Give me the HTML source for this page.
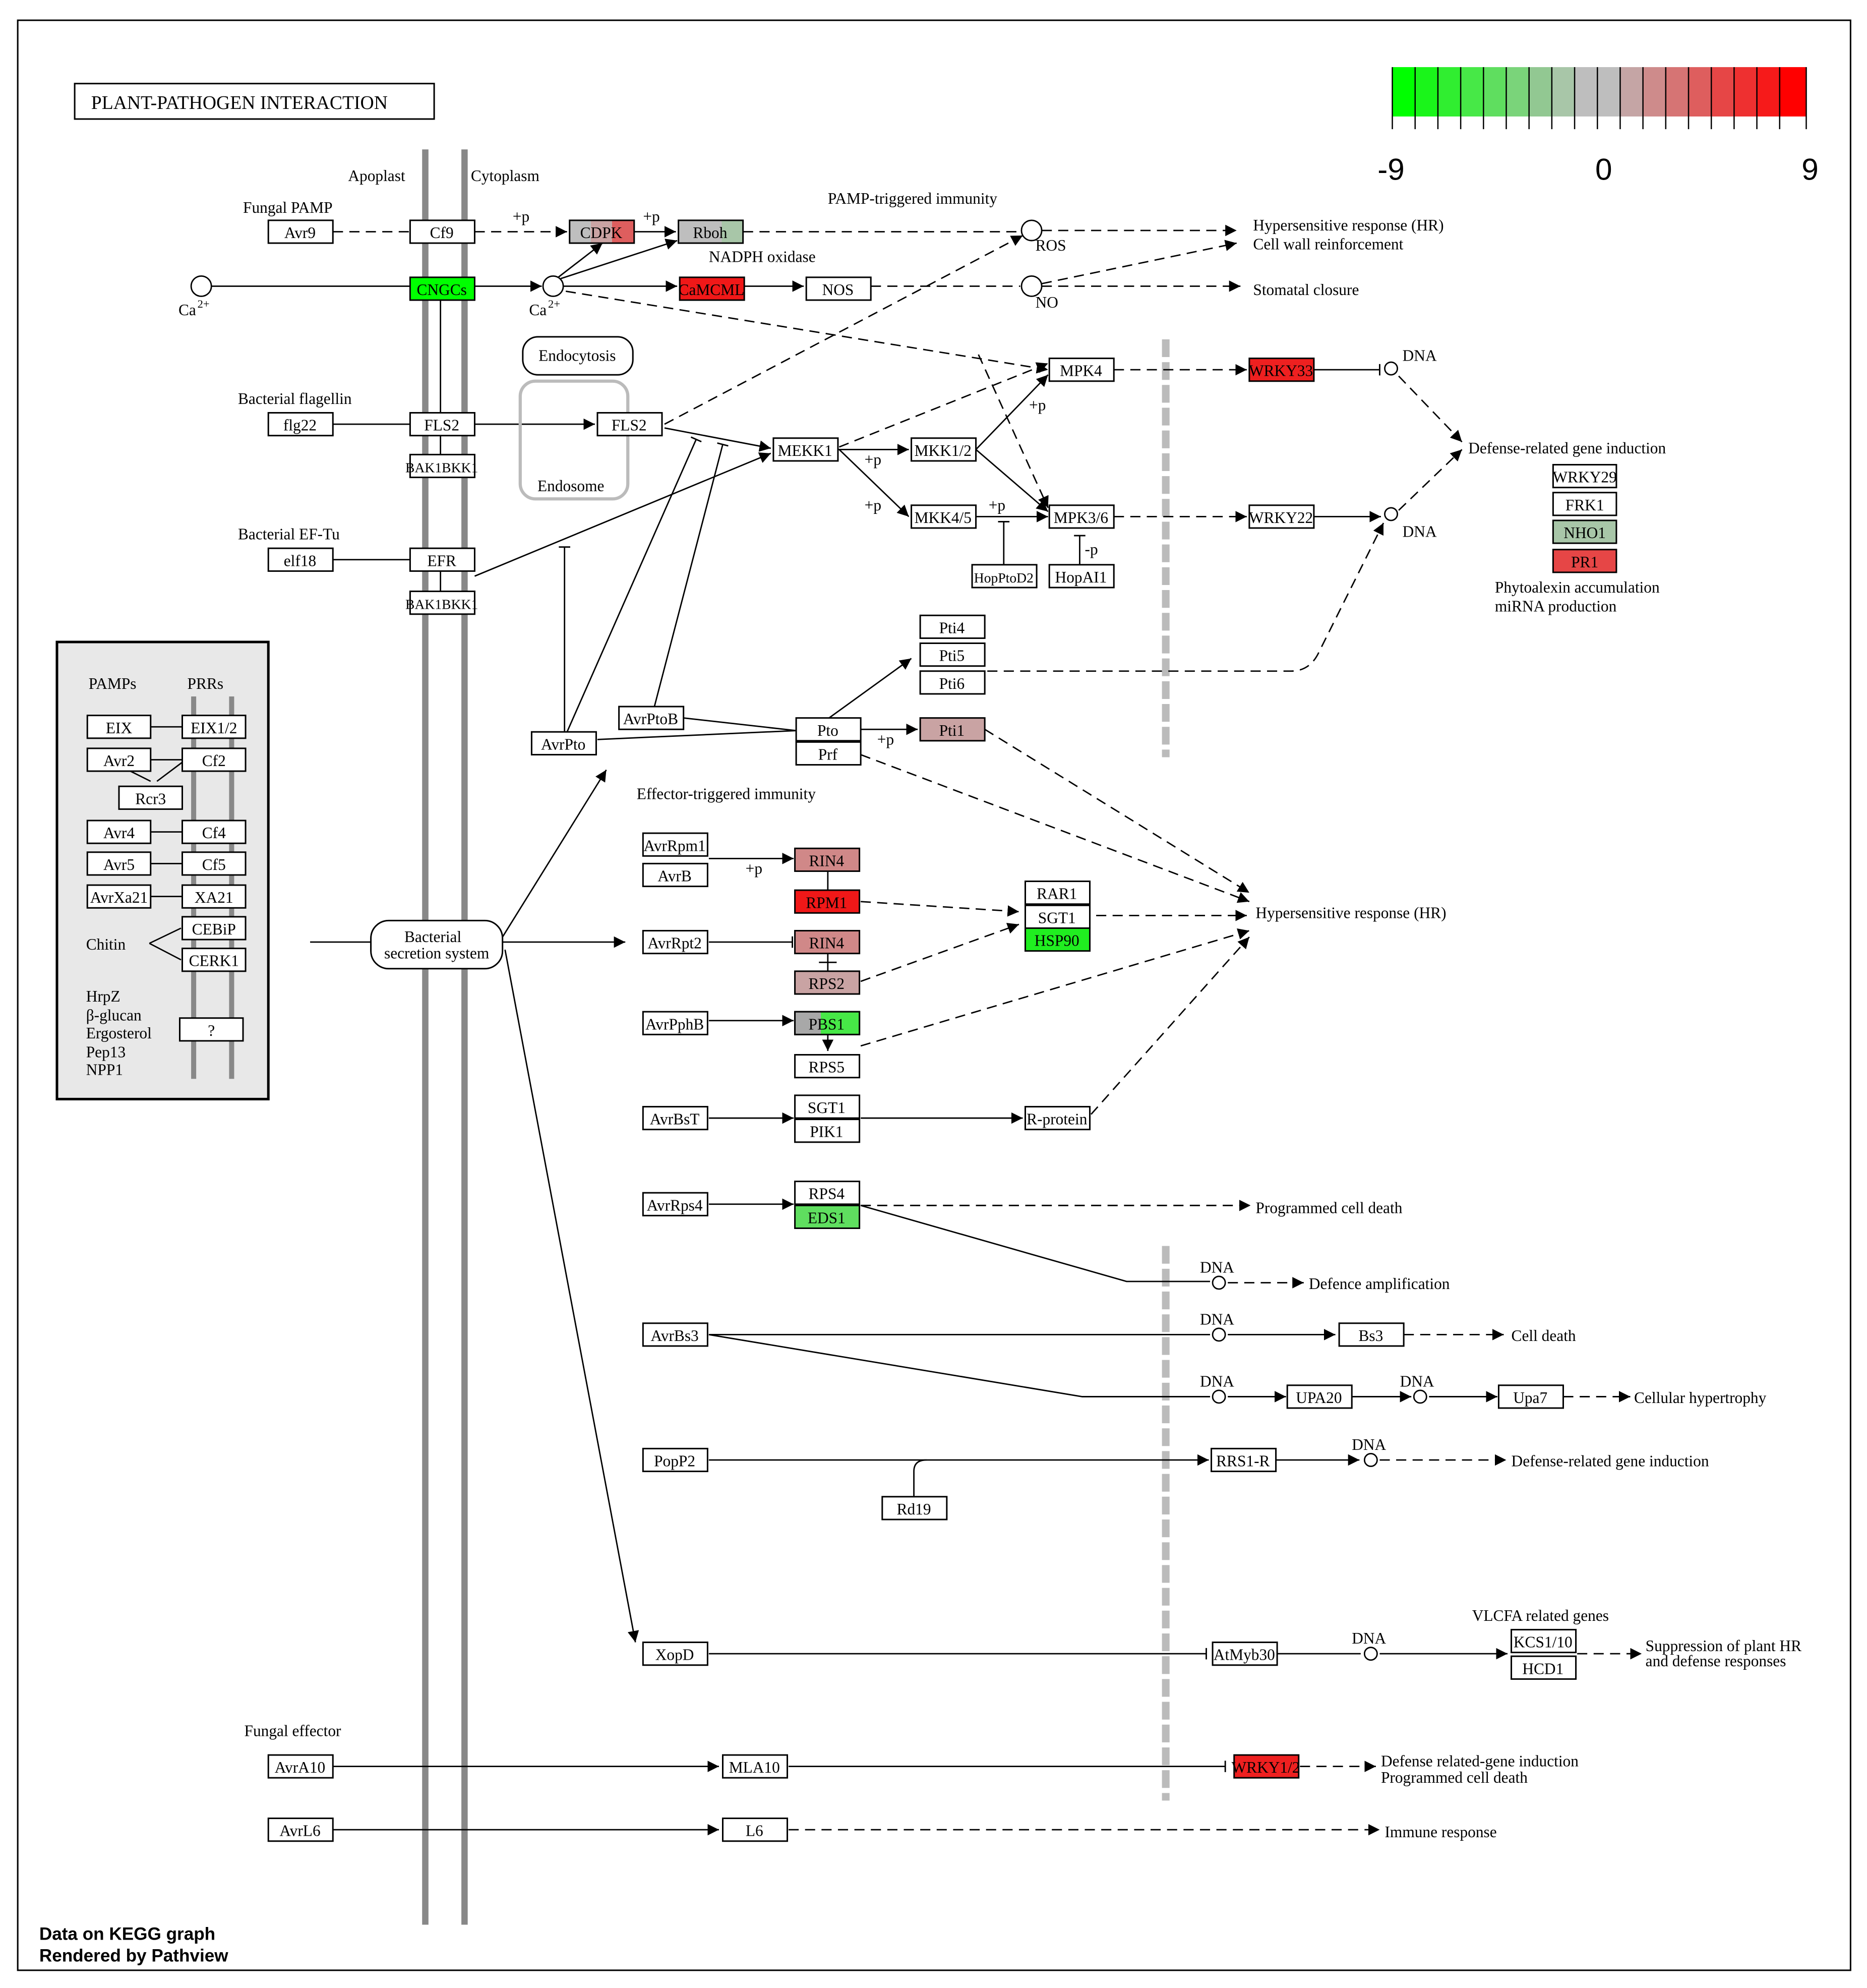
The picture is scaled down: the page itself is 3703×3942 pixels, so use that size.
<!DOCTYPE html>
<html><head><meta charset="utf-8"><style>
html,body{margin:0;padding:0;background:#fff}
svg{display:block}
text{font-family:"Liberation Serif",serif;font-size:12.5px;fill:#000}
.b{fill:#fff;stroke:#000;stroke-width:1.2}
.l{stroke:#000;stroke-width:1.1;fill:none}
.d{stroke:#000;stroke-width:1.1;fill:none;stroke-dasharray:8,5}
.c{text-anchor:middle}
</style></head><body>
<svg width="3703" height="3942" viewBox="0 0 1475 1570" preserveAspectRatio="none" xmlns="http://www.w3.org/2000/svg">
<defs>
<marker id="a" viewBox="0 0 10 10" refX="10" refY="5" markerWidth="9" markerHeight="9" markerUnits="userSpaceOnUse" orient="auto"><path d="M0,0L10,5L0,10z" fill="#000"/></marker>
<marker id="t" viewBox="0 0 4 12" refX="2" refY="6" markerWidth="3" markerHeight="12" markerUnits="userSpaceOnUse" orient="auto"><path d="M2,0V12" stroke="#000" stroke-width="1.5"/></marker>
</defs>
<rect x="14" y="16" width="1448" height="1540" fill="none" stroke="#000" stroke-width="1.2"/>
<rect x="59" y="66" width="284" height="28" class="b" stroke-width="1.8"/>
<text x="72" y="86" style="font-size:15px">PLANT-PATHOGEN  INTERACTION</text>
<!-- legend -->
<g>
<rect x="1100" y="53" width="18" height="39" fill="#00ff00"/><rect x="1118" y="53" width="18" height="39" fill="#1af51a"/><rect x="1136" y="53" width="18" height="39" fill="#30ee30"/><rect x="1154" y="53" width="18" height="39" fill="#47e847"/><rect x="1172" y="53" width="18" height="39" fill="#5fde5f"/><rect x="1190" y="53" width="18" height="39" fill="#7ad47a"/><rect x="1208" y="53" width="18" height="39" fill="#92c892"/><rect x="1226" y="53" width="18" height="39" fill="#a8c6a8"/><rect x="1244" y="53" width="36" height="39" fill="#bebebe"/><rect x="1280" y="53" width="18" height="39" fill="#c5a5a5"/><rect x="1298" y="53" width="18" height="39" fill="#ce8b8b"/><rect x="1316" y="53" width="18" height="39" fill="#d67474"/><rect x="1334" y="53" width="18" height="39" fill="#de5e5e"/><rect x="1352" y="53" width="18" height="39" fill="#e64646"/><rect x="1370" y="53" width="18" height="39" fill="#ee3030"/><rect x="1388" y="53" width="18" height="39" fill="#f61a1a"/><rect x="1406" y="53" width="21" height="39" fill="#ff0000"/>
<path d="M1100,53V102M1118,53V102M1136,53V102M1154,53V102M1172,53V102M1190,53V102M1208,53V102M1226,53V102M1244,53V102M1262,53V102M1280,53V102M1298,53V102M1316,53V102M1334,53V102M1352,53V102M1370,53V102M1388,53V102M1406,53V102M1427,53V102" stroke="#000" stroke-width="1"/>
<text x="1099" y="142" class="c" style="font-family:'Liberation Sans',sans-serif;font-size:24px">-9</text>
<text x="1267" y="142" class="c" style="font-family:'Liberation Sans',sans-serif;font-size:24px">0</text>
<text x="1430" y="142" class="c" style="font-family:'Liberation Sans',sans-serif;font-size:24px">9</text>
</g>
<!-- membranes -->
<path d="M336,118V1520M367,118V1520" stroke="#888" stroke-width="5"/>
<path d="M921,268V598M921,984V1422" stroke="#bbb" stroke-width="6" stroke-dasharray="14,4"/>
<text x="275" y="143">Apoplast</text><text x="372" y="143">Cytoplasm</text>
<text x="192" y="168">Fungal PAMP</text>
<text x="654" y="161">PAMP-triggered immunity</text>
<text x="560" y="207">NADPH oxidase</text>
<text x="188" y="319">Bacterial flagellin</text>
<text x="188" y="426">Bacterial EF-Tu</text>
<text x="503" y="631">Effector-triggered immunity</text>
<text x="193" y="1371">Fungal effector</text>
<text x="1163" y="1280">VLCFA related genes</text>
<!-- connectors -->
<g class="l">
<path class="d" d="M263,183H324"/>
<path class="d" d="M375,183H448" marker-end="url(#a)"/>
<path d="M501,183H534" marker-end="url(#a)"/>
<path class="d" d="M587,183H805"/>
<path class="d" d="M823,182H977" marker-end="url(#a)"/>
<path class="d" d="M823,224L977,192" marker-end="url(#a)"/>
<path class="d" d="M823,226H980" marker-end="url(#a)"/>
<path d="M167,226H324"/>
<path d="M375,226H428" marker-end="url(#a)"/>
<path d="M445,226H535" marker-end="url(#a)"/>
<path d="M588,226H635" marker-end="url(#a)"/>
<path class="d" d="M688,226H806"/>
<path d="M441,219L476,192" marker-end="url(#a)"/>
<path d="M443,220L535,190" marker-end="url(#a)"/>
<path class="d" d="M447,230L828,292" marker-end="url(#a)"/>
<path class="d" d="M525,335L808,186" marker-end="url(#a)"/>
<path d="M348,237V326M348,344V359M348,451V467"/>
<path d="M263,335H324"/>
<path d="M375,335H470" marker-end="url(#a)"/>
<path d="M525,338L609,354" marker-end="url(#a)"/>
<path d="M375,455L609,358" marker-end="url(#a)"/>
<path d="M263,442H324"/>
<path d="M661,355H718" marker-end="url(#a)"/>
<path d="M663,355L718,408" marker-end="url(#a)"/>
<path class="d" d="M663,353L828,287" marker-end="url(#a)"/>
<path d="M771,355L828,296" marker-end="url(#a)"/>
<path class="d" d="M773,280L828,401" marker-end="url(#a)"/>
<path d="M771,355L828,404" marker-end="url(#a)"/>
<path d="M771,408H828" marker-end="url(#a)"/>
<path d="M793,446V412" marker-end="url(#t)"/>
<path d="M853,446V423" marker-end="url(#t)"/>
<path class="d" d="M880,292H985" marker-end="url(#a)"/>
<path d="M1038,292H1090" marker-end="url(#t)"/>
<path class="d" d="M1105,297L1155,349" marker-end="url(#a)"/>
<path class="d" d="M880,408H985" marker-end="url(#a)"/>
<path d="M1038,408H1091" marker-end="url(#a)"/>
<path class="d" d="M1105,403L1155,355" marker-end="url(#a)"/>
<path class="d" d="M780,530H1020Q1035,530 1042,515L1093,413" marker-end="url(#a)"/>
<path d="M446,578V432" marker-end="url(#t)"/>
<path d="M448,578L550,347" marker-end="url(#t)"/>
<path d="M517,558L571,351" marker-end="url(#t)"/>
<path d="M540,567L629,577"/>
<path d="M472,584L629,577"/>
<path d="M655,567L720,520" marker-end="url(#a)"/>
<path d="M680,576H725" marker-end="url(#a)"/>
<path class="d" d="M778,576L987,705" marker-end="url(#a)"/>
<path class="d" d="M680,596L987,712" marker-end="url(#a)"/>
<path d="M245,744H293"/>
<path d="M397,744H494" marker-end="url(#a)"/>
<path d="M397,740L479,608" marker-end="url(#a)"/>
<path d="M399,750L502,1297" marker-end="url(#a)"/>
<path d="M560,678H627" marker-end="url(#a)"/>
<path d="M654,688V703"/>
<path class="d" d="M680,712L805,720" marker-end="url(#a)"/>
<path class="d" d="M866,723H985" marker-end="url(#a)"/>
<path d="M560,744H626" marker-end="url(#t)"/>
<path d="M654,753V767M647,760H661"/>
<path class="d" d="M680,775L805,730" marker-end="url(#a)"/>
<path d="M560,806H627" marker-end="url(#a)"/>
<path d="M654,817V830" marker-end="url(#a)"/>
<path class="d" d="M680,826L987,735" marker-end="url(#a)"/>
<path d="M560,883H627" marker-end="url(#a)"/>
<path d="M680,883H808" marker-end="url(#a)"/>
<path class="d" d="M862,880L987,740" marker-end="url(#a)"/>
<path d="M560,951H627" marker-end="url(#a)"/>
<path class="d" d="M680,952H988" marker-end="url(#a)"/>
<path d="M680,952L890,1012H956"/>
<path class="d" d="M970,1013H1030" marker-end="url(#a)"/>
<path d="M560,1054H956"/>
<path d="M970,1054H1055" marker-end="url(#a)"/>
<path class="d" d="M1109,1054H1188" marker-end="url(#a)"/>
<path d="M560,1054L855,1103H956"/>
<path d="M970,1103H1016" marker-end="url(#a)"/>
<path d="M1067,1103H1115" marker-end="url(#a)"/>
<path d="M1129,1103H1183" marker-end="url(#a)"/>
<path class="d" d="M1235,1103H1288" marker-end="url(#a)"/>
<path d="M560,1153H955" marker-end="url(#a)"/>
<path d="M722,1182V1162Q722,1153 732,1153"/>
<path d="M1008,1153H1074" marker-end="url(#a)"/>
<path class="d" d="M1090,1153H1190" marker-end="url(#a)"/>
<path d="M560,1306H953" marker-end="url(#t)"/>
<path d="M1009,1306H1075"/>
<path d="M1090,1306H1191" marker-end="url(#a)"/>
<path class="d" d="M1246,1306H1297" marker-end="url(#a)"/>
<path d="M263,1395H568" marker-end="url(#a)"/>
<path d="M623,1395H968" marker-end="url(#t)"/>
<path class="d" d="M1027,1395H1087" marker-end="url(#a)"/>
<path d="M263,1445H568" marker-end="url(#a)"/>
<path class="d" d="M623,1445H1090" marker-end="url(#a)"/>
</g>
<!-- circles -->
<g fill="#fff" stroke="#000" stroke-width="1.1">
<circle cx="159" cy="226" r="8"/><circle cx="437" cy="226" r="8"/>
<circle cx="815" cy="182" r="8"/><circle cx="815" cy="226" r="8"/>
<circle cx="1099" cy="291" r="5"/><circle cx="1099" cy="406" r="5"/>
<circle cx="963" cy="1013" r="5"/><circle cx="963" cy="1054" r="5"/><circle cx="963" cy="1103" r="5"/><circle cx="1122" cy="1103" r="5"/><circle cx="1083" cy="1153" r="5"/><circle cx="1083" cy="1306" r="5"/>
</g>
<text x="141" y="249">Ca</text><text x="156" y="243" style="font-size:9px">2+</text>
<text x="418" y="249">Ca</text><text x="433" y="243" style="font-size:9px">2+</text>
<text x="818" y="198">ROS</text><text x="818" y="243">NO</text>
<text x="1108" y="285">DNA</text><text x="1108" y="424">DNA</text>
<text x="948" y="1005">DNA</text><text x="948" y="1046">DNA</text><text x="948" y="1095">DNA</text><text x="1106" y="1095">DNA</text><text x="1068" y="1145">DNA</text><text x="1068" y="1298">DNA</text>
<text x="405" y="175">+p</text><text x="508" y="175">+p</text><text x="683" y="367">+p</text><text x="683" y="403">+p</text><text x="813" y="324">+p</text><text x="781" y="403">+p</text><text x="857" y="438">-p</text><text x="693" y="588">+p</text><text x="589" y="690">+p</text>
<!-- right labels -->
<text x="990" y="182">Hypersensitive response (HR)</text>
<text x="990" y="197">Cell wall reinforcement</text>
<text x="990" y="233">Stomatal closure</text>
<text x="1160" y="358">Defense-related gene induction</text>
<text x="1181" y="468">Phytoalexin accumulation</text>
<text x="1181" y="483">miRNA production</text>
<text x="992" y="725">Hypersensitive response (HR)</text>
<text x="992" y="958">Programmed cell death</text>
<text x="1034" y="1018">Defence amplification</text>
<text x="1194" y="1059">Cell death</text>
<text x="1291" y="1108">Cellular hypertrophy</text>
<text x="1194" y="1158">Defense-related gene induction</text>
<text x="1300" y="1304">Suppression of plant HR</text>
<text x="1300" y="1316">and defense responses</text>
<text x="1091" y="1395">Defense related-gene induction</text>
<text x="1091" y="1408">Programmed cell death</text>
<text x="1094" y="1451">Immune response</text>
<!-- endocytosis -->
<rect x="413" y="266" width="87" height="30" rx="12" class="b"/>
<text x="456" y="285" class="c">Endocytosis</text>
<rect x="411" y="301" width="85" height="93" rx="12" fill="none" stroke="#bbb" stroke-width="2.5"/>
<text x="451" y="388" class="c">Endosome</text>
<!-- boxes -->
<defs>
<linearGradient id="cdpk"><stop offset="0.33" stop-color="#bebebe"/><stop offset="0.33" stop-color="#c9a3a3"/><stop offset="0.66" stop-color="#c9a3a3"/><stop offset="0.66" stop-color="#de5e5e"/></linearGradient>
<linearGradient id="rboh"><stop offset="0.67" stop-color="#bebebe"/><stop offset="0.67" stop-color="#a8c6a8"/></linearGradient>
</defs>
<g class="b">
<rect x="212" y="174" width="51" height="18"/><rect x="324" y="174" width="51" height="18"/>
<rect x="450" y="174" width="51" height="18" fill="url(#cdpk)"/><rect x="536" y="174" width="51" height="18" fill="url(#rboh)"/>
<rect x="324" y="219" width="51" height="18" fill="#00ff00"/><rect x="537" y="219" width="51" height="18" fill="#f01818"/><rect x="637" y="219" width="51" height="18"/>
<rect x="212" y="326" width="51" height="18"/><rect x="324" y="326" width="51" height="18"/><rect x="324" y="359" width="51" height="18"/><rect x="472" y="326" width="51" height="18"/>
<rect x="212" y="433" width="51" height="18"/><rect x="324" y="433" width="51" height="18"/><rect x="324" y="467" width="51" height="18"/>
<rect x="611" y="346" width="51" height="18"/><rect x="720" y="346" width="51" height="18"/><rect x="720" y="399" width="51" height="18"/>
<rect x="829" y="283" width="51" height="18"/><rect x="829" y="399" width="51" height="18"/>
<rect x="987" y="283" width="51" height="18" fill="#ee2020"/><rect x="987" y="399" width="51" height="18"/>
<rect x="768" y="446" width="51" height="18"/><rect x="829" y="446" width="51" height="18"/>
<rect x="1227" y="367" width="50" height="18"/><rect x="1227" y="389" width="50" height="18"/><rect x="1227" y="411" width="50" height="18" fill="#a8c6a8"/><rect x="1227" y="434" width="50" height="18" fill="#e64646"/>
<rect x="727" y="486" width="51" height="18"/><rect x="727" y="508" width="51" height="18"/><rect x="727" y="530" width="51" height="18"/><rect x="727" y="567" width="51" height="18" fill="#c9a3a3"/>
<rect x="629" y="567" width="51" height="18"/><rect x="629" y="586" width="51" height="18"/>
<rect x="420" y="578" width="51" height="18"/><rect x="489" y="558" width="51" height="18"/>
<rect x="508" y="658" width="51" height="18"/><rect x="508" y="682" width="51" height="18"/>
<rect x="628" y="670" width="51" height="18" fill="#d08888"/><rect x="628" y="703" width="51" height="18" fill="#f01818"/>
<rect x="508" y="735" width="51" height="18"/><rect x="628" y="735" width="51" height="18" fill="#d08888"/><rect x="628" y="767" width="51" height="18" fill="#c9a3a3"/>
<rect x="508" y="799" width="51" height="18"/><rect x="628" y="799" width="51" height="18" fill="url(#rboh2)"/><rect x="628" y="833" width="51" height="18"/>
<rect x="810" y="696" width="51" height="18"/><rect x="810" y="715" width="51" height="18"/><rect x="810" y="733" width="51" height="18" fill="#20ee20"/>
<rect x="508" y="874" width="51" height="18"/><rect x="628" y="865" width="51" height="18"/><rect x="628" y="884" width="51" height="18"/><rect x="810" y="874" width="51" height="18"/>
<rect x="508" y="942" width="51" height="18"/><rect x="628" y="933" width="51" height="18"/><rect x="628" y="952" width="51" height="18" fill="#5fde5f"/>
<rect x="508" y="1045" width="51" height="18"/><rect x="1058" y="1045" width="51" height="18"/>
<rect x="1017" y="1094" width="51" height="18"/><rect x="1184" y="1094" width="51" height="18"/>
<rect x="508" y="1144" width="51" height="18"/><rect x="957" y="1144" width="51" height="18"/><rect x="697" y="1182" width="51" height="18"/>
<rect x="508" y="1297" width="51" height="18"/><rect x="958" y="1297" width="51" height="18"/>
<rect x="1194" y="1287" width="51" height="18"/><rect x="1194" y="1308" width="51" height="18"/>
<rect x="212" y="1386" width="51" height="18"/><rect x="571" y="1386" width="51" height="18"/><rect x="975" y="1386" width="51" height="18" fill="#ee2020"/>
<rect x="212" y="1436" width="51" height="18"/><rect x="571" y="1436" width="51" height="18"/>
</g>
<defs><linearGradient id="rboh2"><stop offset="0.4" stop-color="#a8a8a8"/><stop offset="0.4" stop-color="#47e847"/></linearGradient></defs>
<rect x="628" y="799" width="51" height="18" fill="url(#rboh2)" stroke="#000" stroke-width="1.2"/>
<g class="c">
<text x="237" y="188">Avr9</text><text x="349" y="188">Cf9</text><text x="475" y="188">CDPK</text><text x="561" y="188">Rboh</text>
<text x="349" y="233">CNGCs</text><text x="562" y="233">CaMCML</text><text x="662" y="233">NOS</text>
<text x="237" y="340">flg22</text><text x="349" y="340">FLS2</text><text x="349" y="373" style="font-size:11px">BAK1BKK1</text><text x="497" y="340">FLS2</text>
<text x="237" y="447">elf18</text><text x="349" y="447">EFR</text><text x="349" y="481" style="font-size:11px">BAK1BKK1</text>
<text x="636" y="360">MEKK1</text><text x="745" y="360">MKK1/2</text><text x="745" y="413">MKK4/5</text>
<text x="854" y="297">MPK4</text><text x="854" y="413">MPK3/6</text>
<text x="1012" y="297">WRKY33</text><text x="1012" y="413">WRKY22</text>
<text x="793" y="460" style="font-size:11px">HopPtoD2</text><text x="854" y="460">HopAI1</text>
<text x="1252" y="381">WRKY29</text><text x="1252" y="403">FRK1</text><text x="1252" y="425">NHO1</text><text x="1252" y="448">PR1</text>
<text x="752" y="500">Pti4</text><text x="752" y="522">Pti5</text><text x="752" y="544">Pti6</text><text x="752" y="581">Pti1</text>
<text x="654" y="581">Pto</text><text x="654" y="600">Prf</text><text x="445" y="592">AvrPto</text><text x="514" y="572">AvrPtoB</text>
<text x="533" y="672">AvrRpm1</text><text x="533" y="696">AvrB</text><text x="653" y="684">RIN4</text><text x="653" y="717">RPM1</text>
<text x="533" y="749">AvrRpt2</text><text x="653" y="749">RIN4</text><text x="653" y="781">RPS2</text>
<text x="533" y="813">AvrPphB</text><text x="653" y="813">PBS1</text><text x="653" y="847">RPS5</text>
<text x="835" y="710">RAR1</text><text x="835" y="729">SGT1</text><text x="835" y="747">HSP90</text>
<text x="533" y="888">AvrBsT</text><text x="653" y="879">SGT1</text><text x="653" y="898">PIK1</text><text x="835" y="888">R-protein</text>
<text x="533" y="956">AvrRps4</text><text x="653" y="947">RPS4</text><text x="653" y="966">EDS1</text>
<text x="533" y="1059">AvrBs3</text><text x="1083" y="1059">Bs3</text>
<text x="1042" y="1108">UPA20</text><text x="1209" y="1108">Upa7</text>
<text x="533" y="1158">PopP2</text><text x="982" y="1158">RRS1-R</text><text x="722" y="1196">Rd19</text>
<text x="533" y="1311">XopD</text><text x="983" y="1311">AtMyb30</text>
<text x="1219" y="1301">KCS1/10</text><text x="1219" y="1322">HCD1</text>
<text x="237" y="1400">AvrA10</text><text x="596" y="1400">MLA10</text><text x="1000" y="1400">WRKY1/2</text>
<text x="237" y="1450">AvrL6</text><text x="596" y="1450">L6</text>
</g>
<!-- secretion -->
<rect x="293" y="727" width="104" height="38" rx="14" class="b"/>
<text x="342" y="744" class="c">Bacterial</text><text x="345" y="757" class="c">secretion system</text>
<!-- left inset -->
<rect x="45" y="507" width="167" height="361" fill="#e8e8e8" stroke="#000" stroke-width="2"/>
<path d="M153,550V852M183,550V852" stroke="#888" stroke-width="4"/>
<text x="70" y="544">PAMPs</text><text x="148" y="544">PRRs</text>
<g class="l"><path d="M119,574H144M119,600H144M119,657H144M119,682H144M119,708H144M103,609L119,617M124,617L144,602M118,745L143,733M118,745L143,758"/></g>
<g class="b">
<rect x="69" y="565" width="50" height="18"/><rect x="144" y="565" width="50" height="18"/>
<rect x="69" y="591" width="50" height="18"/><rect x="144" y="591" width="50" height="18"/>
<rect x="94" y="621" width="50" height="18"/>
<rect x="69" y="648" width="50" height="18"/><rect x="144" y="648" width="50" height="18"/>
<rect x="69" y="673" width="50" height="18"/><rect x="144" y="673" width="50" height="18"/>
<rect x="69" y="699" width="50" height="18"/><rect x="144" y="699" width="50" height="18"/>
<rect x="144" y="724" width="50" height="18"/><rect x="144" y="749" width="50" height="18"/>
<rect x="142" y="804" width="50" height="18"/>
</g>
<g class="c">
<text x="94" y="579">EIX</text><text x="169" y="579">EIX1/2</text>
<text x="94" y="605">Avr2</text><text x="169" y="605">Cf2</text><text x="119" y="635">Rcr3</text>
<text x="94" y="662">Avr4</text><text x="169" y="662">Cf4</text>
<text x="94" y="687">Avr5</text><text x="169" y="687">Cf5</text>
<text x="94" y="713">AvrXa21</text><text x="169" y="713">XA21</text>
<text x="169" y="738">CEBiP</text><text x="169" y="763">CERK1</text><text x="167" y="818">?</text>
</g>
<text x="68" y="750">Chitin</text>
<text x="68" y="791">HrpZ</text><text x="68" y="806">β-glucan</text><text x="68" y="820">Ergosterol</text><text x="68" y="835">Pep13</text><text x="68" y="849">NPP1</text>
<text x="31" y="1532" style="font-family:'Liberation Sans',sans-serif;font-size:14px;font-weight:bold">Data on KEGG graph</text>
<text x="31" y="1549" style="font-family:'Liberation Sans',sans-serif;font-size:14px;font-weight:bold">Rendered by Pathview</text>
</svg>
</body></html>
